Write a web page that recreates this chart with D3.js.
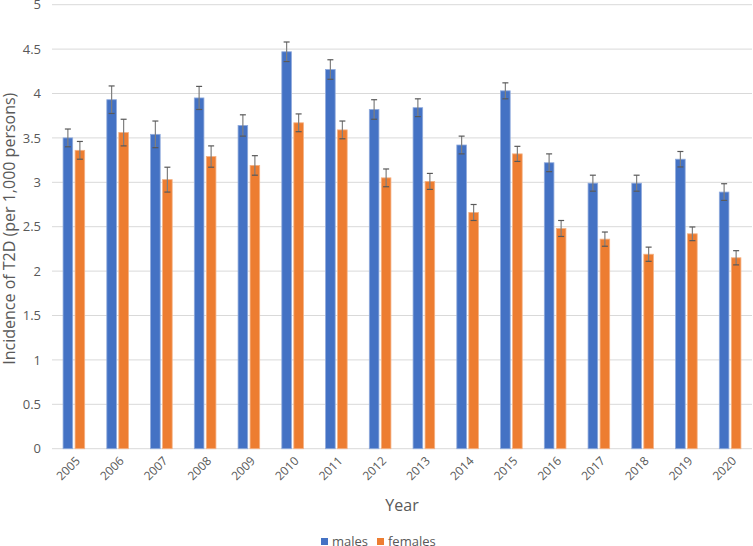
<!DOCTYPE html>
<html>
<head>
<meta charset="utf-8">
<script src="https://cdn.jsdelivr.net/npm/d3@7"></script>
<style>
  html, body { margin: 0; padding: 0; background: #fff; }
  svg { display: block; font-family: "Open Sans", "Noto Sans", sans-serif; }
</style>
</head>
<body>
<svg id="chart" width="753" height="546"></svg>
<script>
const years = ["2005","2006","2007","2008","2009","2010","2011","2012","2013","2014","2015","2016","2017","2018","2019","2020"];
const males = [3.50, 3.93, 3.54, 3.95, 3.64, 4.47, 4.27, 3.82, 3.84, 3.42, 4.03, 3.22, 2.99, 2.99, 3.26, 2.89];
const malesErr = [0.10, 0.155, 0.15, 0.13, 0.12, 0.11, 0.11, 0.11, 0.10, 0.10, 0.09, 0.10, 0.09, 0.09, 0.087, 0.094];
const females = [3.36, 3.56, 3.03, 3.29, 3.19, 3.67, 3.59, 3.05, 3.01, 2.66, 3.32, 2.48, 2.36, 2.19, 2.42, 2.15];
const femalesErr = [0.10, 0.15, 0.14, 0.12, 0.11, 0.10, 0.10, 0.10, 0.09, 0.09, 0.085, 0.09, 0.08, 0.08, 0.077, 0.08];
const seriesNames = ["males", "females"];
const yTicks = [0, 0.5, 1, 1.5, 2, 2.5, 3, 3.5, 4, 4.5, 5];
const yTitle = "Incidence of T2D (per 1,000 persons)";
const xTitle = "Year";

const colors = { males: "#4472C4", females: "#ED7D31" };
const strokes = { males: "#8FAADC", females: "#F4B183" };
const textColor = "#595959";

const svg = d3.select("#chart");
const plotLeft = 52, plotRight = 752, plotTop = 4.7, plotBottom = 448.7;

const x = d3.scaleBand().domain(years).range([plotLeft, plotRight]).paddingInner(0.506).paddingOuter(0.253);
const x1 = d3.scaleBand().domain(seriesNames).range([0, x.bandwidth()]).paddingInner(0.2);
const y = d3.scaleLinear().domain([0, 5]).range([plotBottom, plotTop]);

// gridlines
svg.append("g").selectAll("line").data(yTicks).join("line")
  .attr("x1", plotLeft).attr("x2", plotRight)
  .attr("y1", d => y(d)).attr("y2", d => y(d))
  .attr("stroke", "#d9d9d9").attr("stroke-width", 1);

// y axis labels
const yAxis = d3.axisLeft(y).tickValues(yTicks).tickSize(0).tickPadding(0).tickFormat(d3.format("~g"));
const yg = svg.append("g").attr("transform", `translate(${plotLeft - 11},0)`).call(yAxis);
yg.select(".domain").remove();
yg.selectAll("text").attr("fill", textColor).style("font-size", "13px").style("font-family", "'Open Sans', sans-serif");

// x axis labels
const xAxis = d3.axisBottom(x).tickSize(0).tickPadding(0);
const xg = svg.append("g").attr("transform", `translate(0,${plotBottom})`).call(xAxis);
xg.select(".domain").remove();
xg.selectAll("text")
  .attr("fill", textColor)
  .style("font-size", "12px")
  .style("font-family", "'Open Sans', sans-serif")
  .attr("text-anchor", "end")
  .attr("dy", "0.35em")
  .attr("transform", "translate(4,10) rotate(-45)");

// data rows
const rows = years.map((yr, i) => ({
  year: yr,
  vals: [
    { key: "males", v: males[i], e: malesErr[i] },
    { key: "females", v: females[i], e: femalesErr[i] }
  ]
}));

const groups = svg.append("g").selectAll("g").data(rows).join("g")
  .attr("transform", d => `translate(${x(d.year)},0)`);

groups.selectAll("rect").data(d => d.vals).join("rect")
  .attr("x", d => x1(d.key))
  .attr("width", x1.bandwidth())
  .attr("y", d => y(d.v))
  .attr("height", d => y(0) - y(d.v))
  .attr("fill", d => colors[d.key])
  .attr("stroke", d => strokes[d.key])
  .attr("stroke-width", 0.8);

// error bars
const eb = groups.selectAll("g.err").data(d => d.vals).join("g").attr("class", "err");
eb.append("line")
  .attr("x1", d => x1(d.key) + x1.bandwidth() / 2)
  .attr("x2", d => x1(d.key) + x1.bandwidth() / 2)
  .attr("y1", d => y(d.v + d.e))
  .attr("y2", d => y(d.v - d.e))
  .attr("stroke", "#7f7f7f").attr("stroke-width", 1.2);
[1, -1].forEach(s => {
  eb.append("line")
    .attr("x1", d => x1(d.key) + x1.bandwidth() / 2 - 3)
    .attr("x2", d => x1(d.key) + x1.bandwidth() / 2 + 3)
    .attr("y1", d => y(d.v + s * d.e))
    .attr("y2", d => y(d.v + s * d.e))
    .attr("stroke", "#595959").attr("stroke-width", 1.2);
});

// axis titles
svg.append("text")
  .attr("transform", `translate(15,${(plotTop + plotBottom) / 2 + 2}) rotate(-90)`)
  .attr("text-anchor", "middle")
  .attr("fill", textColor)
  .style("font-size", "16px")
  .text(yTitle);

svg.append("text")
  .attr("x", 402).attr("y", 511)
  .attr("text-anchor", "middle")
  .attr("fill", textColor)
  .style("font-size", "16px")
  .text(xTitle);

// legend
const legendItems = [
  { key: "males", x: 321 },
  { key: "females", x: 377 }
];
const lg = svg.append("g").selectAll("g").data(legendItems).join("g")
  .attr("transform", d => `translate(${d.x},538)`);
lg.append("rect").attr("width", 7).attr("height", 7).attr("fill", d => colors[d.key]);
lg.append("text").attr("x", 11).attr("y", 7.5)
  .attr("fill", textColor).style("font-size", "13px")
  .text(d => d.key);
</script>
</body>
</html>
